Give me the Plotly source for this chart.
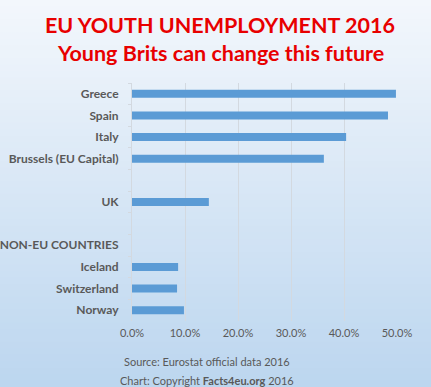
import plotly.graph_objects as go

categories = ["Greece", "Spain", "Italy", "Brussels (EU Capital)", " ", "UK", "  ",
              "NON-EU COUNTRIES", "Iceland", "Switzerland", "Norway"]
values = [0.498, 0.483, 0.404, 0.362, None, 0.145, None, None, 0.087, 0.085, 0.098]
tick_vals = [0, 0.1, 0.2, 0.3, 0.4, 0.5]
tick_text = ["0.0%", "10.0%", "20.0%", "30.0%", "40.0%", "50.0%"]

W, H = 431, 387
L, R, T, B = 132, 397, 83, 321
pw, ph = R - L, B - T

def px_x(p):
    return (p - L) / pw

def px_y(p):
    return (B - p) / ph

top = (243, 247, 252)
bot = (188, 214, 239)
shapes = []
n = 60
for i in range(n):
    t = i / (n - 1)
    c = tuple(round(top[k] + (bot[k] - top[k]) * t) for k in range(3))
    y0 = H * i / n
    y1 = H * (i + 1) / n + 0.5
    shapes.append(dict(type="rect", xref="paper", yref="paper", layer="below",
                       x0=px_x(-2), x1=px_x(W + 4), y0=px_y(y1), y1=px_y(y0),
                       fillcolor="rgb(%d,%d,%d)" % c, line=dict(width=0)))

fig = go.Figure(go.Bar(
    y=categories, x=values, orientation="h",
    marker=dict(color="#5b9bd5", line=dict(width=0)),
    hoverinfo="skip",
))

fig.update_layout(
    width=W, height=H,
    margin=dict(l=L, r=W - R, t=T, b=H - B),
    paper_bgcolor="rgba(0,0,0,0)",
    plot_bgcolor="rgba(0,0,0,0)",
    shapes=shapes,
    bargap=0.63,
    showlegend=False,
    font=dict(family="Lato", color="#595959"),
)
fig.update_xaxes(
    range=[0, 0.5], tickvals=tick_vals, ticktext=tick_text,
    showgrid=True, gridcolor="#d3d9e0", gridwidth=1, zeroline=False,
    showline=False, tickfont=dict(size=11, color="#595959", family="Lato"),
    ticks="", ticklabelstandoff=4, automargin=False,
)
fig.update_yaxes(
    categoryorder="array", categoryarray=categories, autorange="reversed",
    tickfont=dict(size=12, color="#595959", family="Lato"),
    showgrid=False, zeroline=False, showline=True, linecolor="#d3d9e0",
    ticks="outside", ticklen=3, tickcolor="#d3d9e0", tickson="boundaries",
    ticklabelstandoff=10, automargin=False,
)
fig.update_yaxes(tickprefix="<b>", ticksuffix="</b>")

def ann(text, cx, cy, size, color):
    fig.add_annotation(x=px_x(cx), y=px_y(cy), xref="paper", yref="paper",
                       xanchor="center", yanchor="middle",
                       text=text, showarrow=False,
                       font=dict(size=size, color=color, family="Lato"))

ann("<b>EU YOUTH UNEMPLOYMENT 2016</b>", 220, 25, 21.5, "#e80000")
ann("<b>Young Brits can change this future</b>", 220, 53, 21.5, "#e80000")
ann("Source: Eurostat official data 2016", 207, 361, 11, "#595959")
ann("Chart: Copyright <b>Facts4eu.org</b> 2016", 207, 380, 11, "#595959")

fig.write_html("out.html", config={"displayModeBar": False},
               post_script="document.body.style.margin='0px';document.body.style.overflow='hidden';"
                           "document.body.style.background='linear-gradient(#f3f7fc,#bcd6ef)';")
